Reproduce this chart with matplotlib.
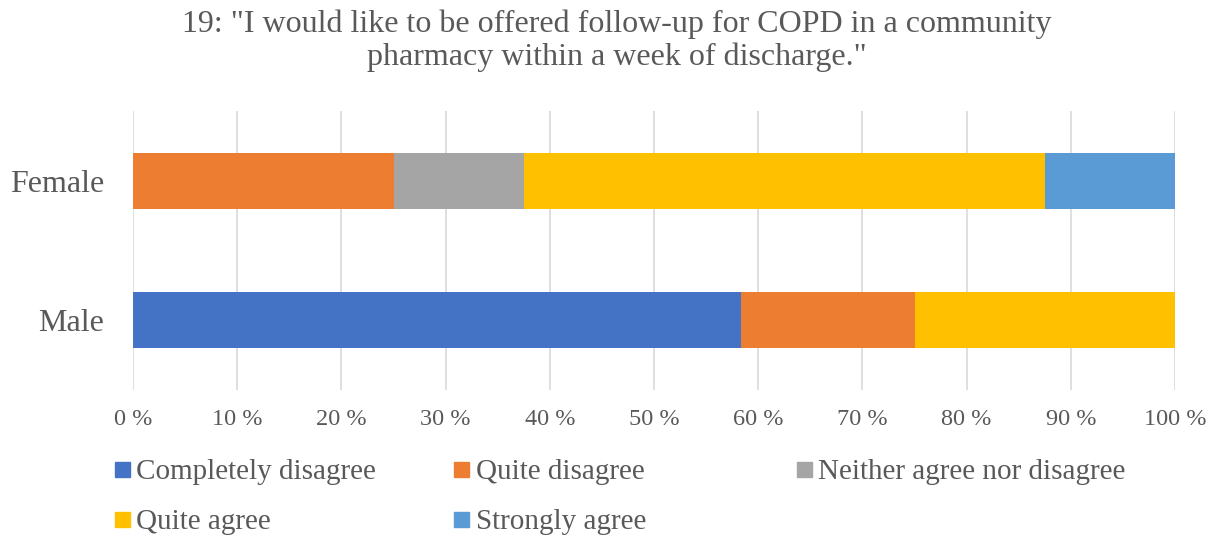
import numpy as np
import matplotlib.pyplot as plt
from matplotlib.lines import Line2D

plt.rcParams['font.family'] = ['Liberation Serif', 'DejaVu Serif']

groups = ["Male", "Female"]
answers = ["Completely disagree", "Quite disagree", "Neither agree nor disagree",
           "Quite agree", "Strongly agree"]
# percent of respondents per answer, Male then Female
completely_disagree = [58.33, 0.0]
quite_disagree = [16.67, 25.0]
neither = [0.0, 12.5]
quite_agree = [25.0, 50.0]
strongly_agree = [0.0, 12.5]
colors = ["#4472C4", "#ED7D31", "#A5A5A5", "#FFC000", "#5B9BD5"]
xticks = [0, 10, 20, 30, 40, 50, 60, 70, 80, 90, 100]

text_col = "#595959"

fig = plt.figure(figsize=(12.19, 5.37), dpi=100)
ax = fig.add_axes([133/1219, 1-390/537, (1175-133)/1219, (390-111)/537])

series = [completely_disagree, quite_disagree, neither, quite_agree, strongly_agree]
y = np.arange(len(groups))
left = np.zeros(len(groups))
for vals, c in zip(series, colors):
    vals = np.array(vals)
    ax.barh(y, vals, left=left, height=0.4, color=c, zorder=3)
    left += vals

ax.set_xlim(0, 100)
ax.set_ylim(-0.5, 1.5)
ax.set_xticks(xticks)
ax.set_xticklabels([f"{t} %" for t in xticks], fontsize=17.5, color=text_col)
ax.set_yticks(y)
ax.set_yticklabels(groups, fontsize=23, color=text_col)
ax.tick_params(length=0)
ax.tick_params(axis='x', pad=14)
ax.tick_params(axis='y', pad=21)
ax.grid(axis='x', color="#D9D9D9", linewidth=1.2, zorder=0)
for s in ax.spines.values():
    s.set_visible(False)

fig.suptitle('19: "I would like to be offered follow-up for COPD in a community\n'
             'pharmacy within a week of discharge."',
             x=0.506, y=0.982, fontsize=23, color=text_col, linespacing=1.13)

# legend laid out in rows of three, equal column widths
col_x = [0.0915, 0.370, 0.651]
row_y = [1-472/537, 1-522/537]
for i, (lab, c) in enumerate(zip(answers, colors)):
    h = Line2D([], [], marker='s', linestyle='none', markersize=10.8,
               markerfacecolor=c, markeredgecolor=c)
    leg = fig.legend([h], [lab], loc='center left',
                     bbox_to_anchor=(col_x[i % 3], row_y[i // 3]),
                     frameon=False, fontsize=21, handlelength=0.7,
                     handletextpad=0.15, borderpad=0, borderaxespad=0,
                     labelcolor=text_col)

fig.savefig("out.png", dpi=100)
